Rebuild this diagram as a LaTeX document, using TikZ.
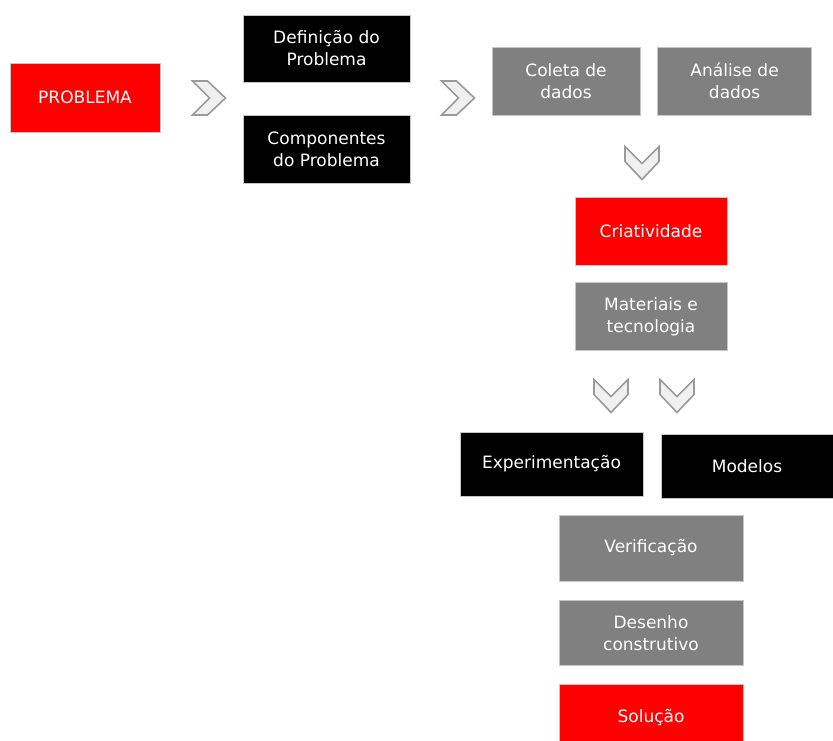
\documentclass[tikz,border=0pt]{standalone}
\usepackage{fontspec}
\setmainfont{DejaVu Sans}
\usetikzlibrary{positioning}
\definecolor{boxred}{HTML}{FF0000}
\definecolor{boxgray}{HTML}{808080}
\definecolor{chevfill}{HTML}{F0F0F0}
\definecolor{chevline}{HTML}{9A9A9A}
\tikzset{every node/.style={align=center}, font=\fontsize{17}{22}\selectfont}
\tikzset{
  box/.style={draw=gray!45, line width=0.6pt, text=white, inner sep=0pt},
  redbox/.style={box, fill=boxred},
  blackbox/.style={box, fill=black},
  graybox/.style={box, fill=boxgray},
  chevron/.pic={
    \draw [draw=chevline, fill=chevfill, line width=1.6pt, line join=miter]
      (-17,-16.5) -- (0,0.5) -- (17,-16.5) -- (17,-1.5) -- (0,16.5) -- (-17,-1.5) -- cycle;
  }
}

\begin{document}
\begin{tikzpicture}[x=1pt, y=-1pt]
  \useasboundingbox (0,0) rectangle (833,740);
  % first column
  \node [redbox, minimum width=150pt, minimum height=69pt] (problema) at (85,97.5) {PROBLEMA};
  \pic [rotate=90] at (209,98) {chevron};
  \node [blackbox, minimum width=167pt, minimum height=67pt] (defin) at (326.5,48.5) {Definição do\\Problema};
  \node [blackbox, minimum width=167pt, minimum height=68pt] (compon) [below=33pt of defin] {Componentes\\do Problema};
  \pic [rotate=90] at (458,98) {chevron};
  % data
  \node [graybox, minimum width=148pt, minimum height=68pt] (coleta) at (566,81) {Coleta de\\dados};
  \node [graybox, minimum width=154pt, minimum height=68pt] (analise) [right=17pt of coleta] {Análise de\\dados};
  \pic at (642,163) {chevron};
  \node [redbox, minimum width=152pt, minimum height=68pt] (criativ) at (651,231) {Criatividade};
  \node [graybox, minimum width=152pt, minimum height=68pt] (materiais) [below=17pt of criativ] {Materiais e\\tecnologia};
  \pic at (611,396) {chevron};
  \pic at (677,396) {chevron};
  % experiments and models
  \node [blackbox, minimum width=183pt, minimum height=64pt] (experim) at (551.5,464) {Experimentação};
  \node [blackbox, minimum width=172pt, minimum height=64pt] (modelos) at (747,466) {Modelos};
  \node [graybox, minimum width=184pt, minimum height=66pt] (verif) at (651,548) {Verificação};
  \node [graybox, minimum width=184pt, minimum height=65pt] (desenho) [below=19pt of verif] {Desenho\\construtivo};
  \node [redbox, minimum width=184pt, minimum height=66pt] (solucao) [below=18pt of desenho] {Solução};
\end{tikzpicture}
\end{document}
